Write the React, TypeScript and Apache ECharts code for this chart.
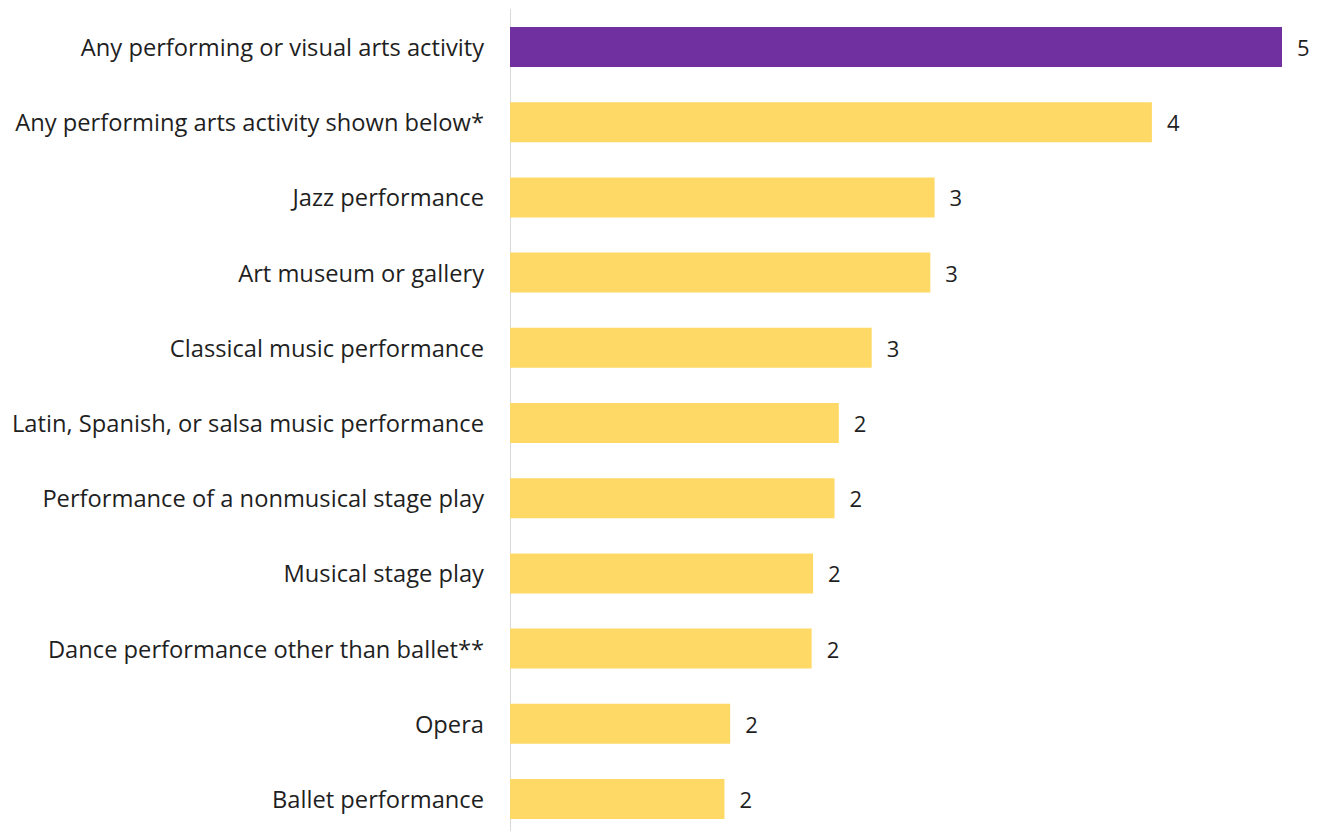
import React, { useEffect, useRef } from "react";
import * as echarts from "echarts";

const categories = [
  "Any performing or visual arts activity",
  "Any performing arts activity shown below*",
  "Jazz performance",
  "Art museum or gallery",
  "Classical music performance",
  "Latin, Spanish, or salsa music performance",
  "Performance of a nonmusical stage play",
  "Musical stage play",
  "Dance performance other than ballet**",
  "Opera",
  "Ballet performance",
];
const values = [5.4, 4.49, 2.97, 2.94, 2.53, 2.3, 2.27, 2.12, 2.11, 1.54, 1.5];
const valueLabels = ["5", "4", "3", "3", "3", "2", "2", "2", "2", "2", "2"];
const highlightIndex = 0;

export default function App() {
  const ref = useRef<HTMLDivElement>(null);
  useEffect(() => {
    if (!ref.current) return;
    const chart = echarts.init(ref.current, null, { renderer: "svg" });
    const font = "Open Sans";
    chart.setOption({
      animation: false,
      backgroundColor: "#ffffff",
      grid: { left: 510, top: 9.4, height: 827.2, right: 25.7 },
      xAxis: {
        type: "value",
        min: 0,
        max: 5.5,
        show: false,
      },
      yAxis: {
        type: "category",
        inverse: true,
        data: categories,
        axisLine: { show: true, lineStyle: { color: "#d9d9d9", width: 1 } },
        axisTick: { show: false },
        axisLabel: {
          margin: 26,
          color: "#1f1f1f",
          fontFamily: font,
          fontSize: 23.7,
        },
      },
      series: [
        {
          type: "bar",
          barWidth: 40,
          data: values.map((v, i) => ({
            value: v,
            itemStyle: { color: i === highlightIndex ? "#7030A0" : "#FFD966" },
          })),
          label: {
            show: true,
            position: "right",
            distance: 15,
            color: "#1f1f1f",
            fontFamily: font,
            fontSize: 22,
            formatter: (p: any) => valueLabels[p.dataIndex],
          },
        },
      ],
    });
    return () => chart.dispose();
  }, []);
  return (
    <div
      style={{
        position: "absolute",
        left: 0,
        top: 0,
        width: 1322,
        height: 831,
        overflow: "hidden",
      }}
    >
      <div ref={ref} style={{ width: 1322, height: 840 }} />
    </div>
  );
}
